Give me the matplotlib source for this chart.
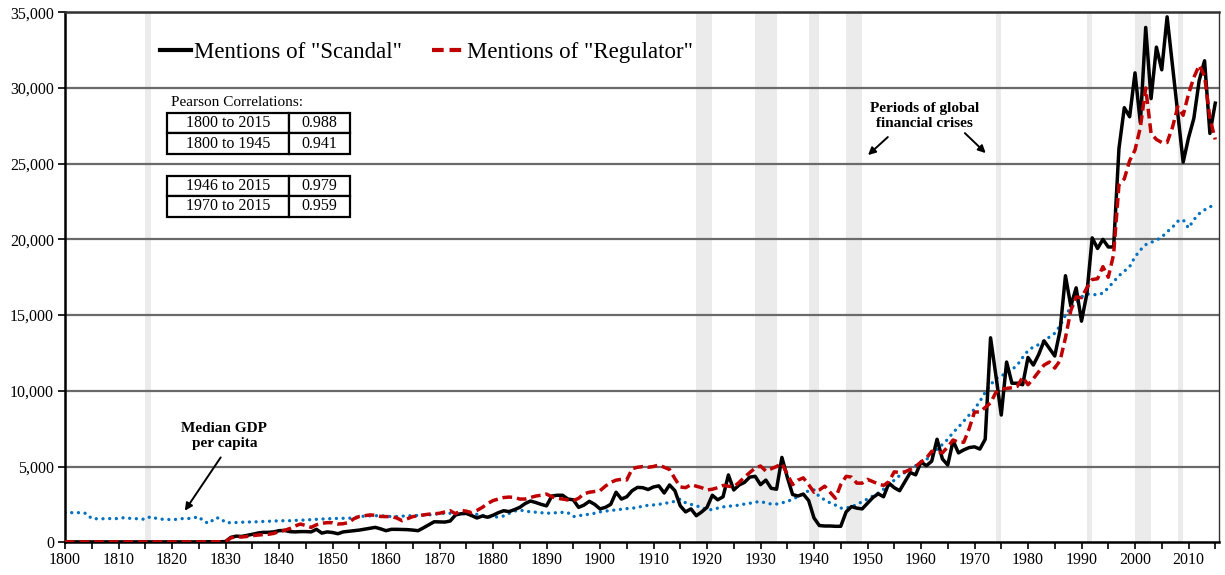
import numpy as np
import matplotlib
matplotlib.use("Agg")
import matplotlib.pyplot as plt
from matplotlib.ticker import FuncFormatter, MultipleLocator

plt.rcParams['font.family'] = ['Liberation Serif', 'DejaVu Serif']

years = list(range(1800, 2016))

scandal = [
    20, 20, 20, 20, 20, 20, 20, 20, 20, 20,
    20, 20, 20, 20, 20, 20, 20, 20, 20, 20,
    20, 20, 20, 20, 20, 20, 20, 30, 30, 30,
    40, 320, 400, 380, 450, 520, 600, 650, 650, 680,
    760, 780, 700, 680, 700, 700, 680, 850, 600, 680,
    640, 560, 680, 720, 760, 800, 860, 920, 980, 880,
    760, 850, 850, 840, 830, 800, 760, 950, 1150, 1350,
    1340, 1330, 1400, 1800, 1880, 1900, 1760, 1600, 1730, 1650,
    1780, 1950, 2080, 2020, 2150, 2300, 2550, 2720, 2620, 2500,
    2400, 3050, 3100, 3100, 2850, 2800, 2300, 2450, 2700, 2500,
    2200, 2300, 2500, 3300, 2850, 3000, 3400, 3620, 3600, 3480,
    3650, 3720, 3250, 3780, 3400, 2400, 2000, 2200, 1750, 2000,
    2300, 3100, 2800, 3000, 4440, 3450, 3780, 3950, 4300, 4350,
    3800, 4100, 3560, 3500, 5600, 4300, 3150, 3050, 3180, 2750,
    1600, 1100, 1070, 1070, 1050, 1050, 2000, 2350, 2250, 2200,
    2570, 2950, 3200, 3000, 3900, 3600, 3400, 4000, 4600, 4450,
    5300, 5050, 5350, 6800, 5500, 5100, 6700, 5900, 6100, 6250,
    6300, 6150, 6800, 13500, 11000, 8400, 11900, 10500, 10500, 10400,
    12200, 11700, 12400, 13300, 12800, 12300, 14000, 17600, 15600, 16800,
    14600, 16400, 20100, 19400, 20000, 19500, 19500, 26000, 28700, 28100,
    31000, 27700, 34000, 29300, 32700, 31200, 34700, 31500, 28300, 25100,
    26700, 28000, 30500, 31800, 27000, 29000,
]

regulator = [
    20, 20, 20, 20, 20, 20, 20, 20, 20, 20,
    20, 20, 20, 20, 20, 20, 20, 20, 20, 20,
    20, 20, 20, 20, 20, 20, 20, 30, 30, 30,
    40, 280, 380, 340, 380, 430, 470, 500, 520, 580,
    700, 780, 900, 1070, 1200, 1100, 980, 1150, 1250, 1290,
    1290, 1200, 1220, 1300, 1550, 1700, 1750, 1800, 1780, 1700,
    1690, 1690, 1600, 1420, 1550, 1690, 1750, 1800, 1850, 1880,
    1910, 2000, 2080, 1880, 2100, 2050, 1950, 2100, 2300, 2550,
    2750, 2850, 2950, 2980, 2960, 2850, 2850, 2950, 3050, 3100,
    3180, 3000, 2900, 2850, 2790, 2740, 2900, 3200, 3300, 3350,
    3400, 3700, 3950, 4100, 4150, 4110, 4850, 4950, 4990, 4950,
    5000, 5100, 4950, 4800, 4200, 3650, 3600, 3800, 3700, 3600,
    3450, 3500, 3600, 3750, 3700, 3650, 3950, 4300, 4600, 4900,
    5030, 4700, 4850, 5000, 5200, 4500, 3800, 4100, 4250, 3800,
    3300, 3450, 3700, 3300, 2900, 3800, 4350, 4300, 3900, 3900,
    4150, 4000, 3850, 3750, 4000, 4650, 4600, 4650, 4800, 5000,
    5300, 5550, 6000, 6000, 5900, 6300, 6750, 6600, 6600, 7500,
    8600, 8600, 8900, 9200, 9900, 10100, 10160, 10200, 10300, 10900,
    10400, 10800, 11260, 11700, 11900, 11500, 12000, 13500, 15300, 16200,
    16150, 16800, 17350, 17400, 18200, 17500, 19000, 23600, 24000, 25200,
    25900, 27400, 30000, 27000, 26600, 26400, 26400, 27400, 28760, 28200,
    29600, 30700, 31500, 30800, 28000, 26600,
]

gdp = [
    1950, 1950, 1950, 1950, 1900, 1550, 1550, 1550, 1560, 1560,
    1560, 1620, 1580, 1560, 1540, 1510, 1690, 1580, 1520, 1510,
    1480, 1520, 1560, 1560, 1600, 1690, 1350, 1250, 1600, 1600,
    1290, 1290, 1300, 1320, 1330, 1340, 1350, 1370, 1380, 1400,
    1410, 1420, 1420, 1440, 1450, 1470, 1490, 1510, 1530, 1550,
    1560, 1570, 1580, 1580, 1620, 1690, 1720, 1740, 1750, 1750,
    1720, 1690, 1700, 1720, 1740, 1750, 1770, 1790, 1800, 1850,
    1880, 1910, 1910, 1910, 1910, 1880, 1860, 1840, 1780, 1700,
    1640, 1680, 1730, 1900, 2050, 2130, 2050, 2010, 1980, 1950,
    1910, 1930, 1950, 1970, 1950, 1690, 1750, 1800, 1850, 1910,
    2000, 2050, 2100, 2130, 2180, 2220, 2240, 2300, 2380, 2440,
    2460, 2500, 2560, 2620, 2700, 2850, 2600, 2500, 2400, 2300,
    2150, 2150, 2250, 2330, 2380, 2400, 2450, 2520, 2570, 2650,
    2680, 2600, 2520, 2520, 2600, 2680, 2850, 3000, 3200, 3400,
    3450, 3000, 2800, 2600, 2450, 2250, 2250, 2350, 2480, 2680,
    2850, 3050, 3250, 3500, 3750, 4100, 4400, 4600, 4850, 5050,
    5250, 5450, 5800, 6150, 6450, 6800, 7250, 7600, 8000, 8400,
    8800, 9300, 9900, 10400, 10800, 11000, 11150, 11400, 11700, 12200,
    12650, 12900, 13050, 13300, 13550, 13800, 14300, 15000, 15500, 15800,
    16200, 16400, 16350, 16350, 16450, 16800, 17200, 17600, 17900, 18200,
    18850, 19300, 19650, 19800, 19950, 20150, 20500, 20800, 21200, 21300,
    20750, 21300, 21700, 21950, 22150, 22300,
]

# periods of global financial crises (start, end)
crises = [(1815, 1816), (1918, 1921), (1929, 1933), (1939, 1941), (1946, 1949),
          (1974, 1975), (1991, 1992), (2000, 2003), (2008, 2009)]

corr_table1 = [["1800 to 2015", "0.988"], ["1800 to 1945", "0.941"]]
corr_table2 = [["1946 to 2015", "0.979"], ["1970 to 2015", "0.959"]]

W, H = 1225, 575
fig = plt.figure(figsize=(W / 100, H / 100), dpi=100)
ax = fig.add_axes([65 / W, 1 - 542.2 / H, 1154 / W, 529.9 / H])

for s, e in crises:
    ax.axvspan(s, e, color='#EBEBEB', lw=0, zorder=0.2)

for yv in range(5000, 35001, 5000):
    ax.axhline(yv, color='#6A6A6A', lw=1.6, zorder=0.5)

ax.plot(years, gdp, color='#0070C0', lw=2.4, linestyle=(0, (0.01, 2.0)),
        dash_capstyle='round', zorder=2)
ax.plot(years, scandal, color='black', lw=2.5, zorder=3, solid_joinstyle='round',
        label='Mentions of "Scandal"')
ax.plot(years, regulator, color='#C00000', lw=2.5, linestyle=(0, (2.8, 1.4)),
        zorder=4, label='Mentions of "Regulator"')

ax.set_xlim(1800, 2015.7)
ax.set_ylim(0, 35000)
ax.xaxis.set_major_locator(MultipleLocator(10))
ax.xaxis.set_minor_locator(MultipleLocator(5))
ax.yaxis.set_major_locator(MultipleLocator(5000))
ax.yaxis.set_major_formatter(FuncFormatter(lambda v, p: f"{int(v):,}"))
ax.tick_params(axis='both', which='both', direction='out', length=5, width=1.2,
               colors='black', labelsize=11.5)
ax.tick_params(axis='x', which='minor', labelbottom=False)
ax.tick_params(axis='x', pad=2)
ax.tick_params(axis='y', pad=3)

ax.spines['left'].set_linewidth(1.8)
ax.spines['bottom'].set_linewidth(1.8)
ax.spines['top'].set_linewidth(1.8)
ax.spines['top'].set_color('#333333')
ax.spines['right'].set_linewidth(1.0)
ax.spines['right'].set_color('#333333')

leg = ax.legend(loc='center left', bbox_to_anchor=((160 - 65) / 1154, (542.2 - 52) / 529.9),
                ncol=2, frameon=False, fontsize=16.5, handlelength=1.35,
                handletextpad=0.15, columnspacing=1.3, borderpad=0, borderaxespad=0)
for lh in leg.get_lines():
    lh.set_linewidth(3)

ax.text((171 - 65) / 1154, (542.2 - 102) / 529.9, "Pearson Correlations:",
        transform=ax.transAxes, fontsize=11, ha='left', va='center')

def draw_table(rows, top_px, bot_px):
    x0 = (166.7 - 65) / 1154
    w = (350 - 166.7) / 1154
    y0 = (542.2 - bot_px) / 529.9
    h = (bot_px - top_px) / 529.9
    tb = ax.table(cellText=rows, colWidths=[0.6656, 0.3344], cellLoc='center',
                  bbox=[x0, y0, w, h], zorder=5)
    tb.auto_set_font_size(False)
    for (r, c), cell in tb.get_celld().items():
        cell.set_linewidth(1.6)
        cell.set_edgecolor('black')
        cell.set_facecolor('white')
        cell.get_text().set_fontsize(11.5)
    return tb

draw_table(corr_table1, 112.7, 154)
draw_table(corr_table2, 175.7, 216.7)

ax.text(1960.7, 28150, "Periods of global\nfinancial crises", ha='center', va='center',
        fontsize=11, fontweight='bold', linespacing=1.2)
arrow = dict(arrowstyle='-|>', color='black', lw=1.4, mutation_scale=11,
             shrinkA=0, shrinkB=0)
ax.annotate('', xy=(1950.1, 25570), xytext=(1953.8, 26760), arrowprops=arrow)
ax.annotate('', xy=(1972.1, 25700), xytext=(1968.2, 27020), arrowprops=arrow)

ax.text(1829.8, 7013, "Median GDP\nper capita", ha='center', va='center',
        fontsize=11, fontweight='bold', linespacing=1.2)
ax.annotate('', xy=(1822.4, 2080), xytext=(1829.1, 5600), arrowprops=arrow)

fig.savefig('out.png', dpi=100)
